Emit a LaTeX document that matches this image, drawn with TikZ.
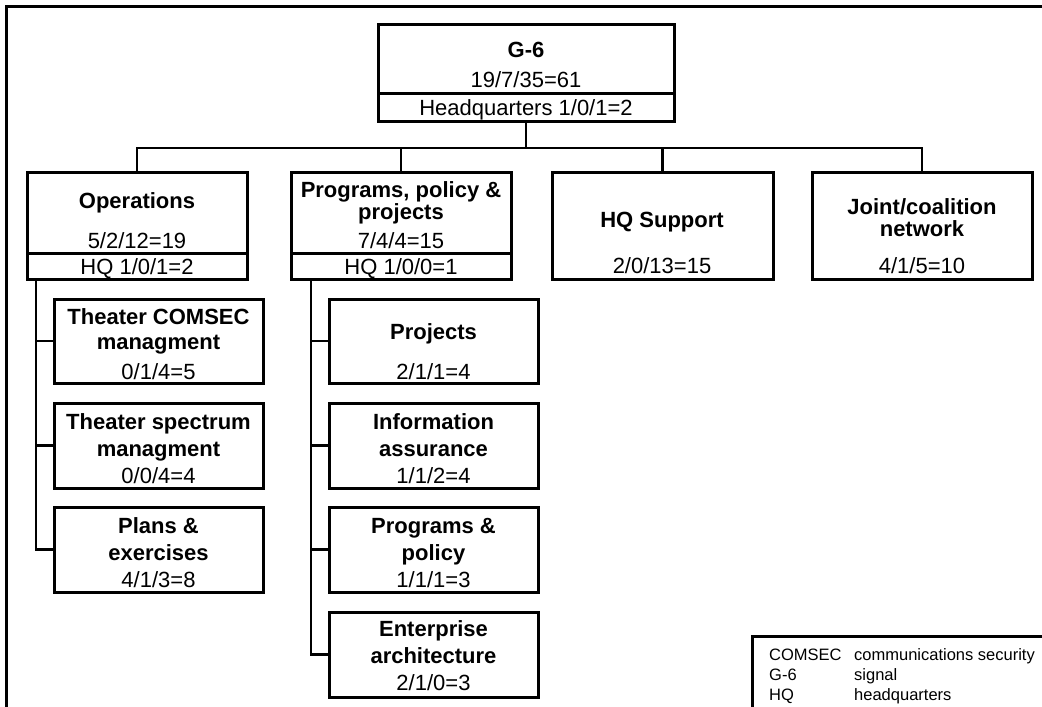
\documentclass[tikz,border=0pt]{standalone}
\usepackage{fontspec}
\setmainfont{Liberation Sans}
\usepackage{tikz}

\begin{document}
\begin{tikzpicture}[x=1pt, y=-1pt]
\tikzset{ box/.style={draw, line width=3pt, anchor=north west, inner sep=0pt, outer sep=0pt, font=\fontsize{22}{27}\selectfont},
          hqbox/.style={box, text height=16pt, text depth=0pt},
          txt/.style={align=center, inner sep=0pt, font=\fontsize{22}{27}\selectfont},
          head/.style={txt, font=\fontsize{22}{22}\selectfont},
          link/.style={line width=2.6pt},
}

\useasboundingbox (0,0) rectangle (1042,707);

% frame
\draw [line width=3pt] (6,730) -- (6,6) -- (1060,6);

% G-6
\node [box, minimum width=296, minimum height=69] (g6)   at (378,24) {};
\node [hqbox, minimum width=296, minimum height=28] (g6hq) at (378,93) {Headquarters 1/0/1=2};
\node [txt] (g6t) at (526,65) {\textbf{G-6}\\[3pt]19/7/35=61};

% divisions
\node [box, minimum width=220, minimum height=81] (ops)   at (27,172) {};
\node [hqbox, minimum width=220, minimum height=26] (opshq) at (27,253) {HQ 1/0/1=2};
\node [txt] (opst) at (137,221) {\textbf{Operations}\\[13pt]5/2/12=19};

\node [box, minimum width=220, minimum height=81] (ppp)   at (291,172) {};
\node [hqbox, minimum width=220, minimum height=26] (ppphq) at (291,253) {HQ 1/0/0=1};
\node [head] (pppt) at (401,215.5) {\textbf{Programs, policy \&}\\\textbf{projects}\\[7pt]7/4/4=15};

\node [box, minimum width=221, minimum height=107] (hqs) at (552,172) {};
\node [head] (hqst) at (662,243) {\textbf{HQ Support}\\[24pt]2/0/13=15};

\node [box, minimum width=220, minimum height=107] (jcn) at (812,172) {};
\node [head] (jcnt) at (922,236.5) {\textbf{Joint/coalition}\\\textbf{network}\\[15pt]4/1/5=10};

% operations branches
\node [box, minimum width=209, minimum height=84] (tcm) at (54,299) {};
\node [txt] (tcmt) at (158.5,344.5) {\textbf{Theater COMSEC}\\[-2pt]\textbf{managment}\\[3pt]0/1/4=5};
\node [box, minimum width=209, minimum height=85] (tsm) at (54,403) {};
\node [txt] (tsmt) at (158.5,448.5) {\textbf{Theater spectrum}\\\textbf{managment}\\0/0/4=4};
\node [box, minimum width=209, minimum height=85] (pex) at (54,507) {};
\node [txt] (pext) at (158.5,552.5) {\textbf{Plans \&}\\\textbf{exercises}\\4/1/3=8};

% programs branches
\node [box, minimum width=209, minimum height=84] (proj) at (329,299) {};
\node [txt] (projt) at (433.5,352) {\textbf{Projects}\\[13pt]2/1/1=4};
\node [box, minimum width=209, minimum height=85] (ia) at (329,403) {};
\node [txt] (iat) at (433.5,448.5) {\textbf{Information}\\\textbf{assurance}\\1/1/2=4};
\node [box, minimum width=209, minimum height=85] (pp) at (329,507) {};
\node [txt] (ppt) at (433.5,552.5) {\textbf{Programs \&}\\\textbf{policy}\\1/1/1=3};
\node [box, minimum width=209, minimum height=85] (ea) at (329,612) {};
\node [txt] (eat) at (433.5,655.5) {\textbf{Enterprise}\\\textbf{architecture}\\2/1/0=3};

% connectors
\coordinate (bus) at (0,148);
\draw [link] (g6hq.south) -- (g6hq.south |- bus);
\draw [link] (ops.north) -- (ops.north |- bus) -| (jcn.north);
\draw [link] (ppp.north) -- (ppp.north |- bus);
\draw [link] (hqs.north) -- (hqs.north |- bus);

\coordinate (opsroot) at (36,279);
\draw [link] (opsroot) |- (tcm.west);
\draw [link] (opsroot) |- (tsm.west);
\draw [link] (opsroot) |- (pex.west);

\coordinate (ppproot) at (311,279);
\draw [link] (ppproot) |- (proj.west);
\draw [link] (ppproot) |- (ia.west);
\draw [link] (ppproot) |- (pp.west);
\draw [link] (ppproot) |- (ea.west);

% key
\node [draw, line width=3pt, anchor=north west, minimum width=320, minimum height=100, inner sep=0pt, outer sep=0pt] (key) at (752,636) {};
\node [anchor=north west, inner sep=0pt, font=\fontsize{16.5}{20}\selectfont] (keyt) at (769,646)
  {\begin{tabular}{@{}p{85pt}@{}l@{}}
   COMSEC & communications security\\
   G-6    & signal\\
   HQ     & headquarters
   \end{tabular}};

\end{tikzpicture}
\end{document}
